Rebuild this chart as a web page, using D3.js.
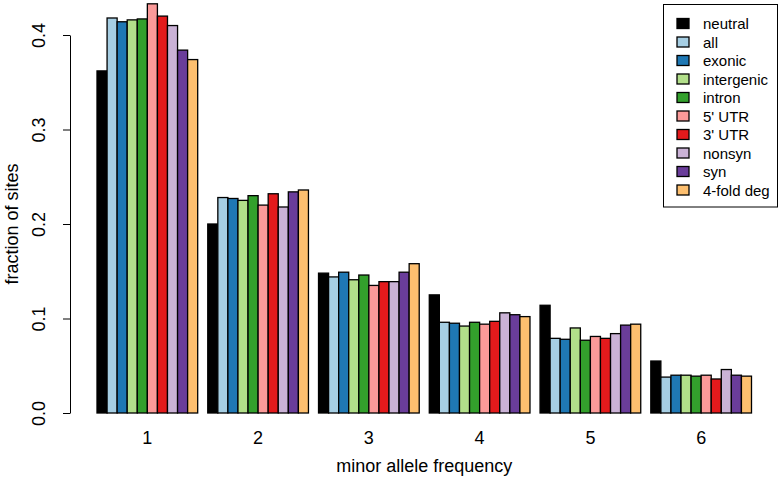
<!DOCTYPE html>
<html><head><meta charset="utf-8">
<script src="https://cdn.jsdelivr.net/npm/d3@7"></script>
<style>body{margin:0;background:#fff}svg{display:block;font-family:"Liberation Sans",Arial,sans-serif}</style>
</head><body>
<svg id="c" width="782" height="479"></svg>
<script>
const categories = ["1","2","3","4","5","6"];
const seriesNames = ["neutral","all","exonic","intergenic","intron","5' UTR","3' UTR","nonsyn","syn","4-fold deg"];
const seriesColors = ["#000000","#A6CEE3","#1F78B4","#B2DF8A","#33A02C","#FB9A99","#E31A1C","#CAB2D6","#6A3D9A","#FDBF6F"];
const neutral    = [0.362,0.200,0.148,0.125,0.114,0.055];
const allSites   = [0.418,0.228,0.144,0.096,0.079,0.038];
const exonic     = [0.414,0.227,0.149,0.095,0.078,0.040];
const intergenic = [0.416,0.225,0.141,0.092,0.090,0.040];
const intron     = [0.417,0.230,0.146,0.096,0.077,0.039];
const utr5       = [0.433,0.220,0.135,0.094,0.081,0.040];
const utr3       = [0.420,0.232,0.139,0.097,0.079,0.036];
const nonsyn     = [0.410,0.218,0.139,0.106,0.084,0.046];
const syn        = [0.384,0.234,0.149,0.104,0.093,0.040];
const fourfold   = [0.374,0.236,0.158,0.102,0.094,0.039];
const yTicks = [0, 0.1, 0.2, 0.3, 0.4];

const seriesValues = [neutral, allSites, exonic, intergenic, intron, utr5, utr3, nonsyn, syn, fourfold];
const svg = d3.select("#c");
const y = d3.scaleLinear().domain([0, 0.4]).range([413, 35]);
const x0 = d3.scaleBand().domain(categories).range([97, 751.5]).paddingInner(1/11).paddingOuter(0);
const x1 = d3.scaleBand().domain(seriesNames).range([0, x0.bandwidth()]).padding(0);
const color = d3.scaleOrdinal().domain(seriesNames).range(seriesColors);

const data = [];
categories.forEach((c, i) => seriesNames.forEach((s, j) => data.push({c, s, v: seriesValues[j][i]})));

svg.append("g").selectAll("rect").data(data).join("rect")
  .attr("x", d => x0(d.c) + x1(d.s))
  .attr("y", d => y(d.v))
  .attr("width", x1.bandwidth())
  .attr("height", d => y(0) - y(d.v))
  .attr("fill", d => color(d.s))
  .attr("stroke", "#000").attr("stroke-width", 1.3);

// y axis
const ya = svg.append("g").attr("transform", "translate(70,0)")
  .call(d3.axisLeft(y).tickValues(yTicks).tickSize(7).tickSizeOuter(0).tickFormat(d3.format(".1f")));
ya.select(".domain").attr("stroke", "#000").attr("stroke-width", 1);
ya.selectAll(".tick line").attr("stroke", "#000");
ya.selectAll(".tick text").attr("font-size", 18).attr("fill", "#000")
  .attr("text-anchor", "middle").attr("dy", 0).attr("x", 0)
  .attr("transform", "translate(-25,0) rotate(-90)")
  .attr("dominant-baseline", "auto");

svg.append("text").attr("transform", "translate(18,224) rotate(-90)")
  .attr("text-anchor", "middle").attr("font-size", 18).text("fraction of sites");

// x labels
svg.append("g").selectAll("text").data(categories).join("text")
  .attr("x", d => x0(d) + x0.bandwidth() / 2).attr("y", 444)
  .attr("text-anchor", "middle").attr("font-size", 18).text(d => d);
svg.append("text").attr("x", (x0.range()[0] + x0.range()[1]) / 2).attr("y", 472)
  .attr("text-anchor", "middle").attr("font-size", 18).text("minor allele frequency");

// legend
const lg = svg.append("g");
lg.append("rect").attr("x", 663.5).attr("y", 4.5).attr("width", 114).attr("height", 202.5)
  .attr("fill", "#fff").attr("stroke", "#000").attr("stroke-width", 1);
const items = lg.selectAll("g.item").data(seriesNames).join("g").attr("class", "item")
  .attr("transform", (d, i) => `translate(0,${23.5 + i * 18.5})`);
items.append("rect").attr("x", 677).attr("y", -5).attr("width", 12).attr("height", 10)
  .attr("fill", d => color(d)).attr("stroke", "#000").attr("stroke-width", 1.3);
items.append("text").attr("x", 703).attr("y", 5.5).attr("font-size", 15).text(d => d);
</script>
</body></html>
